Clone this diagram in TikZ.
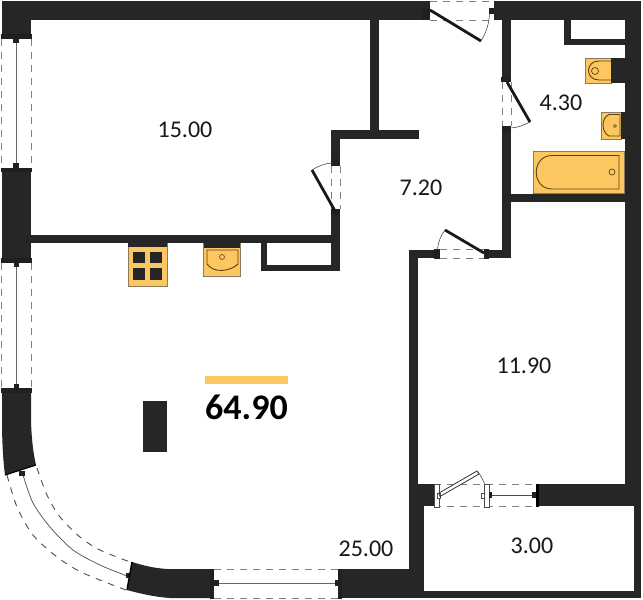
\documentclass[tikz,border=0pt]{standalone}
\usepackage{fontspec}
\setmainfont{Carlito}
\definecolor{wallc}{HTML}{262626}
\definecolor{gold}{HTML}{FCC660}
\definecolor{brownl}{HTML}{5A4218}
\definecolor{dashc}{HTML}{7F7F7F}
\tikzset{
  wall/.style={fill=wallc,draw=none},
  capc/.style={fill=wallc!85!black,draw=none},
  fixture/.style={fill=gold,draw=brownl!70,line width=0.6pt},
  fixline/.style={draw=brownl,line width=0.9pt},
  dashl/.style={draw=dashc,line width=0.9pt,dash pattern=on 6.5pt off 6.5pt},
  glass/.style={draw=dashc!80!black,line width=1pt},
  leaf/.style={draw=black!90,line width=2.8pt},
  swing/.style={draw=black!70,line width=0.6pt},
  area/.style={font=\fontsize{24}{24}\selectfont,text=black!90,inner sep=0pt}
}
\begin{document}
\begin{tikzpicture}[x=1pt,y=-1pt]
\useasboundingbox (0,0) rectangle (643,600);
\fill[white] (0,0) rectangle (643,600);
% --- outer and inner walls
\fill[wall] (2,1) rectangle (430,20);
\fill[wall] (494,1) rectangle (641,20);
\fill[wall] (2,1) rectangle (31,35);
\fill[wall] (2,172) rectangle (31,259);
\fill[wall] (31,234.5) rectangle (340,243);
\fill[wall] (370,20) rectangle (379,131);
\fill[wall] (331,130) rectangle (419,139);
\fill[wall] (331,130) rectangle (340,160);
\fill[wall] (331,214) rectangle (340,271);
\fill[wall] (261,243) rectangle (267,271);
\fill[wall] (261,265) rectangle (340,271);
\fill[wall] (502,20) rectangle (511,78);
\fill[wall] (502,130) rectangle (511,258);
\fill[wall] (502,194) rectangle (625,202);
\fill[wall] (489,249.5) rectangle (511,258);
\fill[wall] (409,249.5) rectangle (435,258);
\fill[wall] (409,249.5) rectangle (418,484);
\fill[wall] (625,20) rectangle (641,484);
\fill[wall] (564,20) rectangle (571,45);
\fill[wall] (564,39) rectangle (625,45);
\fill[wall] (409,484) rectangle (434,506);
\fill[wall] (409,506) rectangle (424,598);
\fill[wall] (538,484) rectangle (641,506);
\fill[wall] (634,506) rectangle (641,598);
\fill[wall] (409,591) rectangle (641,598);
\fill[wall] (342,569) rectangle (424,598);
% curved wall pieces
\fill[wall] (2,392) -- (31,392) -- (31,420) .. controls (31.5,438) and (33,452) .. (36,465)
  -- (5,475) .. controls (3,460) and (2,440) .. (2,420) -- cycle;
\fill[wall] (132,562) .. controls (142,565) and (152,568) .. (167,569) -- (213,569) -- (213,598)
  -- (170,598) .. controls (155,597) and (142,594) .. (127,590) -- cycle;
% --- window caps, left wall
\fill[capc] (1,34) rectangle (31.5,39);
\fill[capc] (1,168) rectangle (31.5,172);
\fill[capc] (1,258) rectangle (31.5,263);
\fill[capc] (1,388) rectangle (31.5,392.5);
\fill[capc] (13,39) rectangle (19,43);
\fill[capc] (13,163) rectangle (19,168);
\fill[capc] (13.5,263) rectangle (19,267);
\fill[capc] (13.5,384) rectangle (19,388);
\draw[glass] (16,43) -- (16,163);
\draw[glass] (16,267) -- (16,384);
\draw[dashl] (1.5,39) -- (1.5,168);
\draw[dashl] (31,39) -- (31,168);
\draw[dashl] (1.5,263) -- (1.5,388);
\draw[dashl] (31,263) -- (31,388);
% --- curved window
\draw[line width=0.9pt,draw=dashc!60!black,dash pattern=on 6.5pt off 6.5pt] plot[smooth] coordinates {(37,468) (47,495) (60,517) (80,537) (100,550) (130,562)};
\draw[line width=0.9pt,draw=dashc!60!black,dash pattern=on 6.5pt off 6.5pt] plot[smooth] coordinates {(7,475) (17,507) (33,535) (57,557) (83,573) (126,590)};
\draw[line width=0.7pt,draw=black!70] plot[smooth] coordinates {(23,475) (33,503) (50,527) (73,550) (100,565) (127,576)};
\fill[capc] (19,471) rectangle (25,476);
\fill[capc] (126,573) rectangle (131,578);
\draw[draw=black,line width=1.2pt] (5,475) -- (36,465);
\draw[draw=black,line width=1.4pt] (132,562) -- (127,590);
% --- bottom window
\fill[capc] (210,569) rectangle (214,599);
\fill[capc] (338,569) rectangle (342,599);
\fill[capc] (214,580) rectangle (219,586);
\fill[capc] (335,580) rectangle (338,586);
\draw[glass] (219,583) -- (335,583);
\draw[dashl] (214,569) -- (338,569);
\draw[dashl] (214,598.5) -- (338,598.5);
% --- entrance door
\fill[capc] (422,8) rectangle (430,20);
\fill[capc] (489,8) rectangle (494,14);
\draw[dashl] (430,1) -- (490,1);
\draw[dashl] (430,20) -- (490,20);
\draw[leaf] (430,10) -- (481,41);
\draw[swing] (481,41) .. controls (486,33) and (489,24) .. (489.5,14);
% --- bedroom door
\fill[capc] (331,159) rectangle (340,166);
\fill[capc] (331,209) rectangle (340,215);
\draw[dashl] (331,166) -- (331,209);
\draw[dashl] (340.5,166) -- (340.5,209);
\draw[leaf] (335,211) -- (312,170);
\draw[swing] (312,170) .. controls (318,166) and (326,163) .. (333,163);
% --- bathroom door
\fill[capc] (501,77) rectangle (511,82);
\fill[capc] (502,126) rectangle (511,132);
\draw[dashl] (502,82) -- (502,126);
\draw[dashl] (511,82) -- (511,126);
\draw[leaf] (507,82) -- (530,122);
\draw[swing] (530,122) .. controls (524,125) and (517,128) .. (510,128);
% --- door to room 11.90
\fill[capc] (434,249) rectangle (440,259);
\fill[capc] (484,249) rectangle (489,259);
\draw[dashl] (440,249.5) -- (484,249.5);
\draw[dashl] (440,258) -- (484,258);
\draw[leaf] (484,253) -- (445,230);
\draw[swing] (445,230) .. controls (441,235) and (438,242) .. (437.5,250);
% --- balcony door and window
\draw[dashl] (434,484) -- (538,484);
\draw[dashl] (434,506.5) -- (538,506.5);
\fill[white,draw=black!70,line width=0.5pt] (434,484) rectangle (439,507);
\fill[white,draw=black!70,line width=0.5pt] (484,484) rectangle (489,507);
\fill[white,draw=black!70,line width=0.5pt] (437.5,493) rectangle (440.5,498);
\fill[white,draw=black!70,line width=0.5pt] (481.5,493) rectangle (484,498);
\fill[capc] (489,492) rectangle (492,498);
\fill[capc] (532,492) rectangle (536,498);
\fill[black] (536,484) rectangle (539,507);
\draw[draw=black!70,line width=0.7pt] (492,495) -- (532,495);
\draw[draw=black!80,line width=0.8pt] (439,493) -- (477,471) -- (479,474) -- (440,496.5) -- cycle;
\draw[swing] (478,472) .. controls (481,476) and (483,480) .. (484.5,484);
% --- stove
\fill[fixture] (128,243) rectangle (167,286);
\fill[wall] (128,243) rectangle (167,247);
\fill[wall] (133,252) rectangle (144.5,263);
\fill[wall] (150,252) rectangle (162,263);
\fill[wall] (133,268) rectangle (144.5,280);
\fill[wall] (150,268) rectangle (162,280);
% --- kitchen sink
\fill[fixture] (203.5,243) rectangle (240,276);
\fill[wall] (203.5,243) rectangle (240,248);
\draw[fixline] (207,250) -- (238,250) -- (238,264) .. controls (231,271) and (214,274) .. (207,264) -- cycle;
\draw[draw=brownl,line width=0.6pt] (222,257) circle (2.5);
% --- toilet
\fill[fixture] (585,58.5) rectangle (611,83);
\fill[wall] (611,58) rectangle (625,83);
\draw[fixline] (611,61) -- (599,61) .. controls (585,61) and (585,80) .. (599,80) -- (611,80);
\draw[draw=brownl,line width=0.7pt] (595,71) circle (3.5);
% --- bathroom sink
\fill[fixture] (601,112) rectangle (621,139);
\fill[wall] (621,112) rectangle (625,139);
\draw[fixline] (620,114.5) -- (609,114.5) .. controls (601,118) and (601,132) .. (609,136) -- (620,136) -- cycle;
\draw[draw=brownl,line width=0.6pt] (615,126) circle (1.5);
% --- bath
\fill[fixture] (533.5,151) rectangle (624,193);
\draw[fixline] (619,155.5) -- (552,155.5) .. controls (531,155.5) and (531,189) .. (552,189) -- (619,189) -- cycle;
\draw[draw=brownl,line width=0.7pt] (612,172) circle (3);
% --- column, bar
\fill[wall] (143,401) rectangle (167,452);
\fill[gold] (205,376) rectangle (288,384);
% --- labels
\node[area] (a15) at (185,130) {15.00};
\node[area] (a72) at (421,188) {7.20};
\node[area] (a43) at (561,103) {4.30};
\node[area] (a119) at (524,366) {11.90};
\node[area] (a30) at (532,546) {3.00};
\node[area] (a25) at (366,549) {25.00};
\node[inner sep=0pt,text=black,font=\fontsize{36}{36}\selectfont\bfseries] (total) at (246.5,407) {64.90};
\end{tikzpicture}
\end{document}
